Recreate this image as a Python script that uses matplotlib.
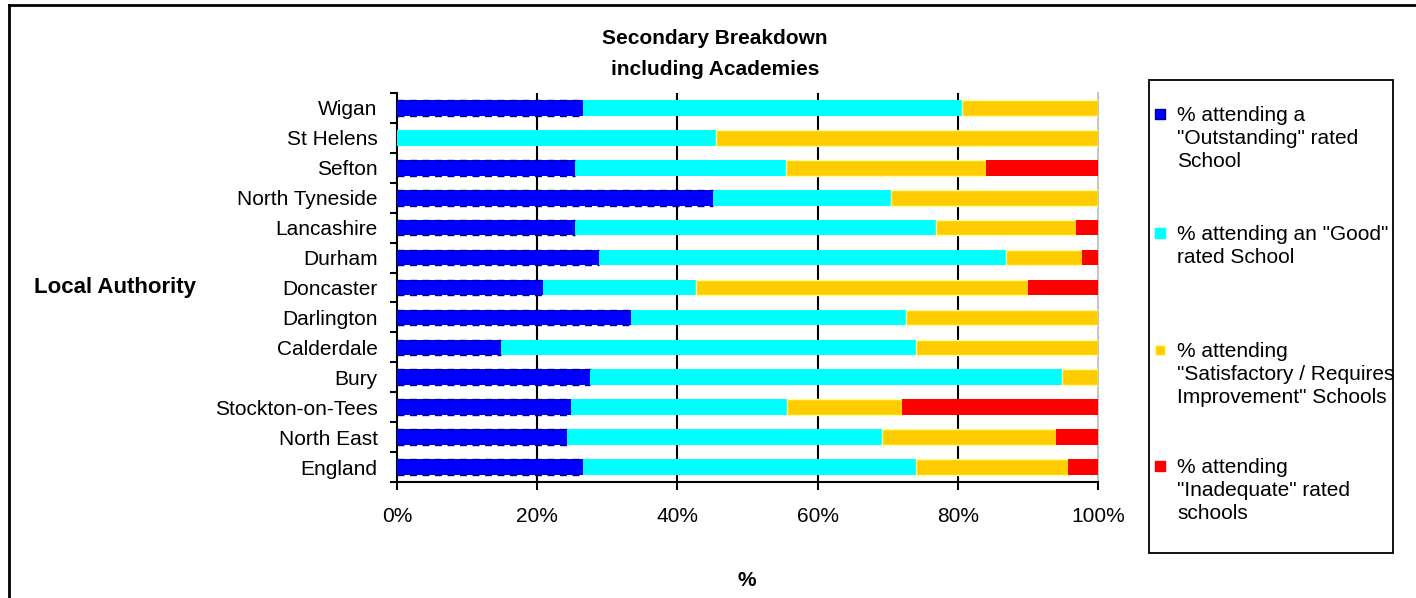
import matplotlib
matplotlib.use("Agg")
import matplotlib.pyplot as plt
from matplotlib.lines import Line2D
from matplotlib.patches import Rectangle
import numpy as np

plt.rcParams['font.family'] = ['Liberation Sans', 'DejaVu Sans']

authorities = ["Wigan", "St Helens", "Sefton", "North Tyneside", "Lancashire",
               "Durham", "Doncaster", "Darlington", "Calderdale", "Bury",
               "Stockton-on-Tees", "North East", "England"]

outstanding = [26.5, 0.0, 25.4, 45.1, 25.4, 28.8, 20.8, 33.4, 14.8, 27.6, 24.8, 24.2, 26.5]
good = [54.1, 45.5, 30.1, 25.3, 51.5, 58.1, 21.8, 39.2, 59.2, 67.3, 30.9, 45.0, 47.5]
satisfactory = [19.4, 54.5, 28.5, 29.6, 19.9, 10.8, 47.4, 27.4, 26.0, 5.1, 16.3, 24.8, 21.7]
inadequate = [0.0, 0.0, 16.0, 0.0, 3.2, 2.3, 10.0, 0.0, 0.0, 0.0, 28.0, 6.0, 4.3]

series_labels = ['% attending a\n"Outstanding" rated\nSchool',
                 '% attending an "Good"\nrated School',
                 '% attending\n"Satisfactory / Requires\nImprovement" Schools',
                 '% attending\n"Inadequate" rated\nschools']
colors = ["#0000FF", "#00FFFF", "#FFCC00", "#FF0000"]
edges = ["#000080", "#00FFFF", "#FFFF99", "#FF0000"]

x_ticks = [0, 20, 40, 60, 80, 100]
x_tick_labels = ["0%", "20%", "40%", "60%", "80%", "100%"]

FS = 15
W, H = 1416, 598
fig = plt.figure(figsize=(W / 100, H / 100), dpi=100)
fig.patch.set_facecolor("white")

ax = fig.add_axes([397 / W, 1 - 482 / H, (1098 - 397) / W, (482 - 93) / H])

n = len(authorities)
y = np.arange(n)[::-1]
bar_h = 0.52

left = np.zeros(n)
for vals, col, ec in zip([outstanding, good, satisfactory, inadequate], colors, edges):
    vals = np.asarray(vals)
    if col == "#FFCC00":
        ax.barh(y, vals, left=left, height=bar_h, color=col, edgecolor=ec,
                linewidth=1.0, zorder=3)
    else:
        ax.barh(y, vals, left=left, height=bar_h, color=col, linewidth=0, zorder=3)
    left = left + vals

# dashed navy border along the top and bottom of the "Outstanding" segments
ob = np.asarray(outstanding)
for yy, v in zip(y, ob):
    if v > 0:
        ax.hlines([yy - bar_h / 2, yy + bar_h / 2], 0, v, colors="#000080",
                  linestyles=(0, (5, 4)), linewidth=1.0, zorder=4)

ax.set_xlim(0, 100)
ax.set_ylim(-0.5, n - 0.5)

ax.set_xticks(x_ticks)
ax.set_xticklabels(x_tick_labels, fontsize=FS)
ax.set_yticks(y)
ax.set_yticklabels(authorities, fontsize=FS)
ax.set_yticks(np.arange(n + 1) - 0.5, minor=True)
ax.tick_params(axis="y", which="major", length=0, pad=14)
ax.tick_params(axis="y", which="minor", length=5, width=1.5, direction="out")
ax.tick_params(axis="x", which="major", length=6, width=1.5, direction="out", pad=12)

for gx in x_ticks[1:-1]:
    ax.axvline(gx, color="black", linewidth=1.5, zorder=1)

for s in ["left", "bottom"]:
    ax.spines[s].set_linewidth(1.5)
    ax.spines[s].set_color("black")
ax.spines["top"].set_visible(False)
ax.spines["right"].set_color("#BBBBBB")
ax.spines["right"].set_linewidth(1.2)

fig.text(747 / W, 1 - 580 / H, "%", fontsize=FS, fontweight="bold",
         ha="center", va="center")
fig.text(115 / W, 1 - 288 / H, "Local Authority", fontsize=FS + 1, fontweight="bold",
         ha="center", va="center")

fig.text(715 / W, 1 - 54 / H, "Secondary Breakdown\nincluding Academies",
         fontsize=FS, fontweight="bold", ha="center", va="center", linespacing=1.75)

# legend panel
lg_x0, lg_x1, lg_y0, lg_y1 = 1149, 1393, 80, 553
fig.add_artist(Rectangle((lg_x0 / W, 1 - lg_y1 / H), (lg_x1 - lg_x0) / W,
                         (lg_y1 - lg_y0) / H, transform=fig.transFigure,
                         facecolor="white", edgecolor="black", linewidth=1.3))
entry_centers = [114, 233, 350, 466]
for lab, col, ec, cy in zip(series_labels, colors, edges, entry_centers):
    fig.add_artist(Rectangle(((1160 - 5) / W, 1 - (cy + 5) / H), 10 / W, 10 / H,
                             transform=fig.transFigure, facecolor=col,
                             edgecolor=ec, linewidth=1.0))
    fig.text(1177 / W, 1 - (cy - 8) / H, lab, fontsize=FS, ha="left", va="top",
             linespacing=1.28, transform=fig.transFigure)

# outer frame
fig.add_artist(Line2D([9 / W, 9 / W], [0, 1 - 5 / H], transform=fig.transFigure,
                      color="black", linewidth=2))
fig.add_artist(Line2D([9 / W, 1], [1 - 5 / H, 1 - 5 / H], transform=fig.transFigure,
                      color="black", linewidth=2))

fig.savefig("out.png", dpi=100)
